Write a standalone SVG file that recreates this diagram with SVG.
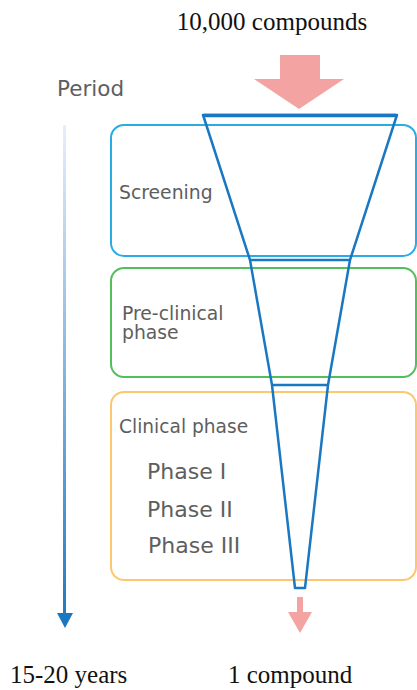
<svg xmlns="http://www.w3.org/2000/svg" width="417" height="690" viewBox="0 0 417 690">
<defs>
<style>
.lbl{font-family:"DejaVu Sans",Verdana,sans-serif;fill:#5e5e5e;}
.ser{font-family:"Liberation Serif","Times New Roman",serif;fill:#111;font-size:25px;}
.box{fill:none;stroke-width:2;}
.fun{fill:none;stroke:#1a78c2;stroke-width:2.5;stroke-linejoin:round;}
</style>
<linearGradient id="vg" x1="0" y1="125" x2="0" y2="628" gradientUnits="userSpaceOnUse">
<stop offset="0" stop-color="#e8eefa"/>
<stop offset="1" stop-color="#1a78c2"/>
</linearGradient>
</defs>
<rect width="417" height="690" fill="#fff"/>
<text class="ser" x="272" y="30" text-anchor="middle">10,000 compounds</text>
<g id="period">
<text class="lbl" x="57" y="96" font-size="21.5">Period</text>
<rect x="63" y="125" width="3" height="490" fill="url(#vg)"/>
<polygon points="57,613 73,613 65,628" fill="#1a78c2"/>
</g>
<g id="screening">
<rect class="box" x="111" y="125" width="305" height="131" rx="13" stroke="#2aace2"/>
<text class="lbl" x="119" y="199" font-size="18.8">Screening</text>
</g>
<g id="preclinical">
<rect class="box" x="111" y="268" width="305" height="109" rx="13" stroke="#52c05a"/>
<text class="lbl" x="122" y="320" font-size="18.8">Pre-clinical</text>
<text class="lbl" x="122" y="339" font-size="18.8">phase</text>
</g>
<g id="clinical">
<rect class="box" x="111" y="392" width="305" height="188" rx="13" stroke="#fbc870"/>
<text class="lbl" x="119" y="433" font-size="18.6">Clinical phase</text>
<text class="lbl" x="147" y="479" font-size="22">Phase I</text>
<text class="lbl" x="147" y="517" font-size="22">Phase II</text>
<text class="lbl" x="148" y="553" font-size="22">Phase III</text>
</g>
<g id="funnel">
<polygon class="fun" points="203,115 397,115 395,121 350,260 328,385 305,588 295,588 272,385 250,260 205,121"/>
<line x1="204" y1="115.5" x2="396" y2="115.5" stroke="#1a78c2" stroke-width="3.5"/>
<line class="fun" x1="250" y1="260" x2="350" y2="260"/>
<line class="fun" x1="272" y1="385" x2="328" y2="385"/>
</g>
<g id="connectors">
<polygon points="280,55 320,55 320,79 344,79 299,109 254,79 280,79" fill="#f4a3a3"/>
<polygon points="297,597 303,597 303,612 312,612 300,633 288,612 297,612" fill="#f4a3a3"/>
</g>
<text class="ser" x="10" y="683">15-20 years</text>
<text class="ser" x="228" y="683">1 compound</text>
</svg>
